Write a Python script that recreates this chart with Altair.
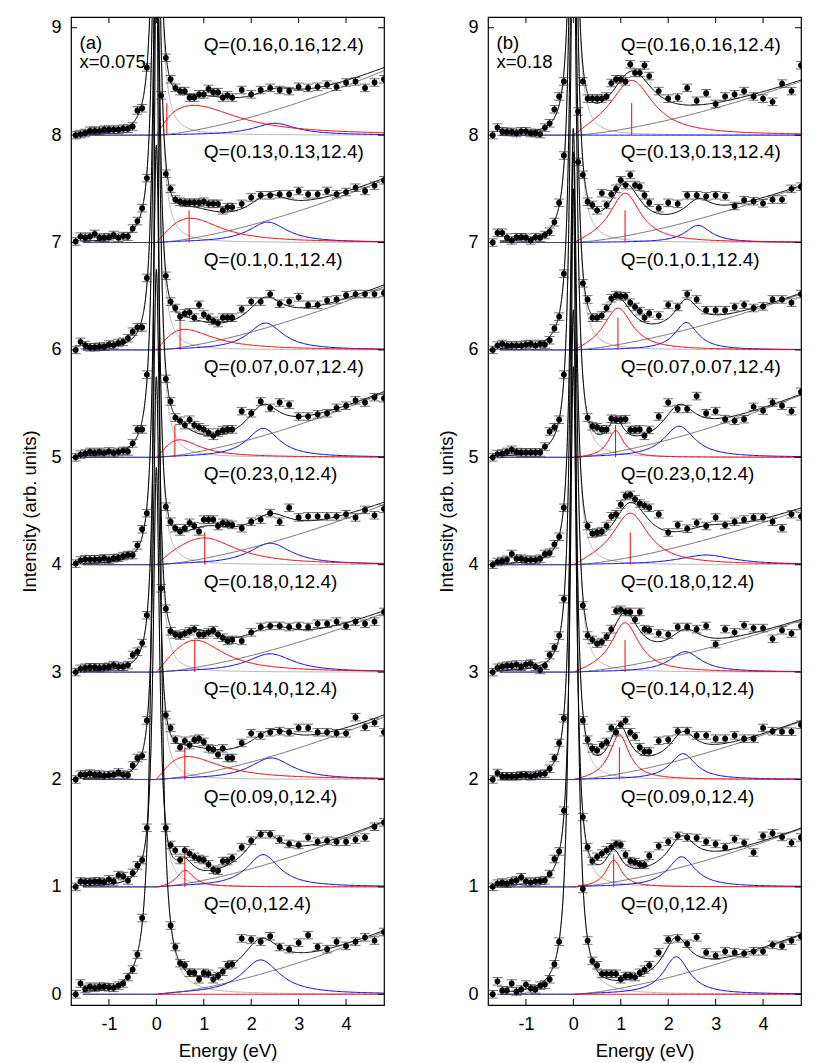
import numpy as np
import pandas as pd
import altair as alt

N = None
# Energy grid of the measured points (eV)
ENERGY = [-1.7, -1.6, -1.5, -1.4, -1.3, -1.2, -1.1, -1.0, -0.9, -0.8, -0.7,
          -0.6, -0.5, -0.4, -0.3, -0.2, -0.1, 0.0, 0.1, 0.2,
          0.3, 0.4, 0.5, 0.6, 0.7, 0.8, 0.9, 1.0, 1.1, 1.2, 1.3, 1.4, 1.5, 1.6,
          1.8, 2.0, 2.2, 2.4, 2.6, 2.8, 3.0, 3.2, 3.4, 3.6, 3.8, 4.0, 4.2, 4.4, 4.6, 4.8]

Q_LABELS = ["Q=(0,0,12.4)", "Q=(0.09,0,12.4)", "Q=(0.14,0,12.4)", "Q=(0.18,0,12.4)",
            "Q=(0.23,0,12.4)", "Q=(0.07,0.07,12.4)", "Q=(0.1,0.1,12.4)",
            "Q=(0.13,0.13,12.4)", "Q=(0.16,0.16,12.4)"]
X_TICKS = [-1, 0, 1, 2, 3, 4]
Y_TICKS = [0, 1, 2, 3, 4, 5, 6, 7, 8, 9]

# ---------------- panel (a) x=0.075 : intensities above each offset ----------------
A0 = [0.00, 0.10, 0.05, 0.07, 0.06, 0.07, 0.07, 0.065, 0.06, 0.08, 0.10,
      0.16, 0.23, 0.37, 0.71, N, N, N, N, N,
      0.64, 0.44, 0.29, 0.27, 0.20, 0.20, 0.14, 0.20, 0.19, 0.14, 0.17, 0.21, 0.27, 0.28,
      0.52, 0.51, 0.49, 0.54, 0.44, 0.42, 0.48, 0.55, 0.44, 0.42, 0.49, 0.45, 0.49, 0.53, 0.50, 0.58]
A1 = [0.00, 0.05, 0.045, 0.045, 0.05, 0.05, 0.045, 0.07, 0.05, 0.11, 0.10,
      0.06, 0.13, 0.20, 0.25, 0.55, N, N, N, 0.55,
      0.39, 0.34, 0.25, 0.34, 0.31, 0.28, 0.26, 0.25, 0.21, 0.16, 0.15, 0.24, 0.24, 0.27,
      0.37, 0.43, 0.49, 0.49, 0.44, 0.40, 0.39, 0.46, 0.42, 0.43, 0.42, 0.42, 0.44, 0.46, 0.56, 0.60]
A2 = [0.00, 0.045, 0.045, 0.055, 0.045, 0.045, 0.035, 0.04, 0.045, 0.065, 0.045,
      0.04, 0.13, 0.20, 0.22, 0.55, N, N, N, 0.60,
      0.48, 0.37, 0.30, 0.36, 0.32, 0.37, 0.38, 0.35, 0.29, 0.28, 0.23, 0.29, 0.20, 0.20,
      0.34, 0.43, 0.41, 0.44, 0.45, 0.44, 0.48, 0.48, 0.44, 0.44, 0.43, 0.43, 0.58, 0.49, 0.53, 0.44]
A3 = [0.00, 0.03, 0.04, 0.045, 0.045, 0.04, 0.045, 0.05, 0.065, 0.05, 0.05,
      0.065, 0.16, 0.19, 0.27, 0.53, N, N, 0.78, 0.59,
      0.38, 0.35, 0.34, 0.36, 0.38, 0.40, 0.35, 0.35, 0.37, 0.39, 0.35, 0.32, 0.29, 0.30,
      0.29, 0.37, 0.42, 0.43, 0.43, 0.42, 0.43, 0.42, 0.45, 0.45, 0.47, 0.43, 0.47, 0.45, 0.47, 0.56]
A4 = [0.01, 0.04, 0.05, 0.05, 0.05, 0.05, 0.06, 0.045, 0.06, 0.065, 0.08,
      0.09, 0.09, 0.18, 0.33, 0.48, N, N, N, 0.54,
      0.40, 0.34, 0.31, 0.34, 0.39, 0.36, 0.31, 0.42, 0.42, 0.42, 0.36, 0.39, 0.38, 0.37,
      0.34, 0.40, 0.42, 0.48, 0.40, 0.53, 0.44, 0.45, 0.45, 0.45, 0.45, 0.47, 0.44, 0.51, 0.46, 0.52]
A5 = [0.00, 0.025, 0.035, 0.05, 0.04, 0.05, 0.04, 0.055, 0.04, 0.05, 0.06,
      0.055, 0.13, 0.26, 0.26, 0.77, N, N, N, 0.73,
      0.52, 0.37, 0.34, 0.30, 0.35, 0.30, 0.28, 0.26, 0.23, 0.20, 0.23, 0.25, 0.26, 0.26,
      0.43, 0.41, 0.52, 0.46, 0.51, 0.49, 0.38, 0.38, 0.40, 0.41, 0.46, 0.48, 0.53, 0.51, 0.56, 0.55]
A6 = [0.00, 0.075, 0.045, 0.025, 0.025, 0.03, 0.03, 0.05, 0.045, 0.065, 0.075,
      0.11, 0.17, 0.21, 0.21, 0.67, N, N, N, 0.69,
      0.45, 0.39, 0.31, 0.34, 0.35, 0.30, 0.42, 0.33, 0.30, 0.27, 0.25, 0.30, 0.30, 0.30,
      0.38, 0.45, 0.45, 0.52, 0.43, 0.45, 0.49, 0.42, 0.42, 0.46, 0.47, 0.51, 0.52, 0.52, 0.52, 0.53]
A7 = [0.01, 0.055, 0.045, 0.055, 0.08, 0.045, 0.045, 0.05, 0.07, 0.045, 0.06,
      0.055, 0.13, 0.20, 0.32, 0.60, N, N, 1.37, 0.64,
      0.50, 0.40, 0.38, 0.37, 0.37, 0.37, 0.37, 0.38, 0.36, 0.36, 0.36, 0.30, 0.33, 0.33,
      0.36, 0.42, 0.44, 0.44, 0.45, 0.45, 0.48, 0.45, 0.45, 0.48, 0.45, 0.47, 0.51, 0.48, 0.53, 0.58]
A8 = [0.00, 0.01, 0.02, 0.04, 0.04, 0.04, 0.05, 0.05, 0.05, 0.05, 0.06,
      0.06, 0.08, 0.23, 0.25, 0.63, N, N, N, 0.72,
      0.52, 0.44, 0.41, 0.41, 0.35, 0.35, 0.38, 0.38, 0.43, 0.40, 0.40, 0.35, 0.37, 0.35,
      0.42, 0.38, 0.42, 0.44, 0.42, 0.41, 0.45, 0.44, 0.45, 0.47, 0.45, 0.49, 0.50, 0.44, 0.49, 0.52]

# ---------------- panel (b) x=0.18 ----------------
B0 = [0.00, 0.12, 0.035, 0.035, 0.10, 0.025, 0.045, 0.09, 0.055, 0.045, 0.08,
      0.09, 0.14, 0.28, 0.49, N, N, N, N, 0.98,
      0.50, 0.31, 0.27, 0.19, 0.19, 0.19, 0.19, 0.14, 0.17, 0.17, 0.16, 0.20, 0.23, 0.27,
      0.39, 0.51, 0.52, 0.47, 0.53, 0.39, 0.36, 0.40, 0.39, 0.38, 0.40, 0.40, 0.46, 0.45, 0.50, 0.54]
B1 = [0.00, 0.03, 0.04, 0.03, 0.05, 0.06, 0.09, 0.05, 0.04, 0.05, 0.055,
      0.06, 0.12, 0.26, 0.33, 0.71, N, N, N, 0.65,
      0.37, 0.24, 0.28, 0.31, 0.34, 0.37, 0.40, 0.39, 0.30, 0.24, 0.23, 0.21, 0.205, 0.29,
      0.38, 0.42, 0.475, 0.46, 0.455, 0.42, 0.40, 0.37, 0.445, 0.41, 0.32, 0.475, 0.50, 0.465, 0.41, 0.46]
B2 = [0.00, 0.06, 0.03, 0.03, 0.03, 0.03, 0.04, 0.04, 0.03, 0.04, 0.05,
      0.055, 0.10, 0.20, 0.34, 0.57, N, N, N, 0.55,
      0.37, 0.29, 0.27, 0.32, 0.35, 0.48, 0.44, 0.51, 0.55, 0.44, 0.40, 0.30, 0.26, 0.26,
      0.36, 0.37, 0.45, 0.45, 0.41, 0.41, 0.38, 0.38, 0.41, 0.38, 0.38, 0.48, 0.45, 0.445, 0.445, 0.51]
B3 = [0.00, 0.04, 0.05, 0.06, 0.06, 0.07, 0.05, 0.07, 0.08, 0.05, 0.02,
      0.06, 0.16, 0.23, 0.34, 0.68, N, N, N, 0.62,
      0.34, 0.30, 0.265, 0.28, 0.33, 0.40, 0.57, 0.58, 0.56, 0.56, 0.49, 0.56, 0.40, 0.39,
      0.36, 0.35, 0.42, 0.42, 0.40, 0.43, 0.26, 0.40, 0.37, 0.435, 0.41, 0.41, 0.31, 0.39, 0.36, 0.43]
B4 = [0.00, 0.025, 0.035, 0.045, 0.10, 0.055, 0.055, 0.045, 0.045, 0.045, 0.055,
      0.10, 0.11, 0.19, 0.26, 0.53, N, N, N, N,
      0.36, 0.29, 0.30, 0.31, 0.36, 0.45, 0.47, 0.56, 0.64, 0.65, 0.61, 0.57, 0.55, 0.53,
      0.47, 0.30, 0.37, 0.335, 0.39, 0.36, 0.44, 0.37, 0.40, 0.42, 0.44, 0.44, 0.40, 0.34, 0.47, 0.45]
B5 = [0.00, 0.03, 0.035, 0.05, 0.07, 0.05, 0.045, 0.045, 0.045, 0.045, 0.045,
      0.10, 0.24, 0.28, 0.35, 0.77, N, N, N, N,
      0.37, 0.29, 0.28, 0.26, 0.26, 0.36, 0.35, 0.35, 0.355, 0.255, 0.255, 0.26, 0.20, 0.255,
      0.38, 0.51, 0.45, 0.45, 0.57, 0.41, 0.43, 0.355, 0.34, 0.355, 0.47, 0.435, 0.51, 0.48, 0.43, 0.61]
B6 = [0.00, 0.04, 0.055, 0.04, 0.04, 0.04, 0.04, 0.05, 0.055, 0.04, 0.055,
      0.05, 0.09, 0.20, 0.31, 0.71, N, N, 1.75, 0.62,
      0.47, 0.30, 0.30, 0.32, 0.39, 0.48, 0.51, 0.50, 0.50, 0.44, 0.40, 0.36, 0.30, 0.34,
      0.32, 0.42, 0.40, 0.52, 0.47, 0.37, 0.37, 0.37, 0.40, 0.42, 0.39, 0.405, 0.47, 0.47, 0.44, 0.52]
B7 = [0.00, 0.09, 0.09, 0.045, 0.02, 0.05, 0.05, 0.045, 0.02, 0.05, 0.045,
      0.07, 0.10, 0.19, 0.37, 0.81, N, N, 1.22, 0.63,
      0.38, 0.35, 0.30, 0.46, 0.35, 0.45, 0.50, 0.58, 0.535, 0.63, 0.535, 0.52, 0.44, 0.37,
      0.32, 0.37, 0.36, 0.44, 0.44, 0.43, 0.44, 0.43, 0.34, 0.395, 0.385, 0.365, 0.40, 0.40, 0.50, 0.52]
B8 = [0.00, 0.07, 0.035, 0.03, 0.03, 0.02, 0.035, 0.035, 0.02, 0.02, 0.01,
      0.07, 0.11, 0.24, 0.36, 0.50, N, N, N, 0.50,
      0.34, 0.34, 0.34, 0.34, 0.36, 0.485, 0.52, 0.52, 0.50, 0.66, 0.58, 0.58, 0.65, 0.55,
      0.41, 0.34, 0.35, 0.44, 0.32, 0.39, 0.29, 0.36, 0.38, 0.41, 0.36, 0.34, 0.31, 0.48, 0.41, 0.65]

# ---------------- fit parameters read from the components ----------------
A_ELASTIC = [0.063, 0.025, 0.024, 0.024, 0.025, 0.033, 0.028, 0.030, 0.029]
A_RED_POS = [0.5, 0.6, 0.6, 0.81, 1.0, 0.4, 0.53, 0.69, 0.74]
A_RED_WID = [0.3, 0.22, 0.9, 0.74, 0.84, 0.58, 0.79, 0.81, 1.2]
A_RED_AMP = [0.0, 0.16, 0.22, 0.30, 0.25, 0.18, 0.20, 0.23, 0.28]
A_RED_MARK = [N, 0.6, 0.6, 0.81, 1.02, 0.39, 0.5, 0.69, 0.22]
A_BLUE_POS = [2.2, 2.25, 2.42, 2.4, 2.4, 2.25, 2.3, 2.35, 2.5]
A_BLUE_WID = [0.49, 0.42, 0.55, 0.6, 0.55, 0.42, 0.45, 0.5, 0.55]
A_BLUE_AMP = [0.32, 0.30, 0.20, 0.17, 0.20, 0.27, 0.25, 0.19, 0.11]
A_BG = [0.58, 0.60, 0.58, 0.55, 0.56, 0.60, 0.59, 0.58, 0.60]

B_ELASTIC = [0.048, 0.031, 0.028, 0.031, 0.026, 0.034, 0.032, 0.033, 0.027]
B_RED_POS = [1.0, 0.85, 0.97, 1.09, 1.2, 0.89, 0.94, 1.09, 1.23]
B_RED_WID = [0.3, 0.2, 0.25, 0.36, 0.47, 0.2, 0.37, 0.4, 0.55]
B_RED_AMP = [0.0, 0.25, 0.42, 0.46, 0.48, 0.25, 0.39, 0.46, 0.51]
B_RED_MARK = [N, 0.85, 0.97, 1.09, 1.2, 0.89, 0.94, 1.09, 1.23]
B_BLUE_POS = [2.17, 2.28, 2.31, 2.36, 2.8, 2.23, 2.38, 2.63, 2.5]
B_BLUE_WID = [0.33, 0.35, 0.33, 0.4, 0.7, 0.4, 0.3, 0.33, 0.5]
B_BLUE_AMP = [0.35, 0.28, 0.24, 0.19, 0.09, 0.29, 0.255, 0.16, 0.0]
B_BG = [0.55, 0.54, 0.54, 0.48, 0.51, 0.58, 0.52, 0.52, 0.50]

ERR = 0.035
GAMMA_EL = 0.08
RAMP = 0.3
BG_POWER = 1.45
MARK_LEN = 0.3

PANELS = {
    "a": dict(data=[A0, A1, A2, A3, A4, A5, A6, A7, A8], el=A_ELASTIC,
              rc=A_RED_POS, rw=A_RED_WID, ra=A_RED_AMP, rm=A_RED_MARK,
              bc=A_BLUE_POS, bw=A_BLUE_WID, ba=A_BLUE_AMP, bg=A_BG,
              tag=["(a)", "x=0.075"]),
    "b": dict(data=[B0, B1, B2, B3, B4, B5, B6, B7, B8], el=B_ELASTIC,
              rc=B_RED_POS, rw=B_RED_WID, ra=B_RED_AMP, rm=B_RED_MARK,
              bc=B_BLUE_POS, bw=B_BLUE_WID, ba=B_BLUE_AMP, bg=B_BG,
              tag=["(b)", "x=0.18"]),
}

E_FINE = np.round(np.concatenate([np.arange(-1.55, -0.5, 0.025),
                                  np.arange(-0.5, 0.5, 0.004),
                                  np.arange(0.5, 4.8001, 0.025)]), 4)
E_COARSE = np.round(np.arange(-1.55, 4.8001, 0.025), 4)
E_POS = np.round(np.arange(0.0, 4.8001, 0.025), 4)


def peak(E, c, w, a):
    return np.where(E > 0, a * w ** 2 / ((E - c) ** 2 + w ** 2) * np.tanh(np.clip(E, 0, None) / RAMP), 0.0)


def backg(E, b):
    return np.where(E > 0, b * (np.clip(E, 0, None) / 4.8) ** BG_POWER, 0.0)


def elastic(E, s):
    return s / (E ** 2 + GAMMA_EL ** 2)


curve_rows, point_rows, mark_rows, label_rows = [], [], [], []
for key, P in PANELS.items():
    for k in range(9):
        off = float(k)
        ef = E_FINE
        fit = (elastic(ef, P["el"][k]) + peak(ef, P["rc"][k], P["rw"][k], P["ra"][k])
               + peak(ef, P["bc"][k], P["bw"][k], P["ba"][k]) + backg(ef, P["bg"][k]))
        el = elastic(ef, P["el"][k])
        for comp, vals, grid in [("fit", fit, ef), ("elastic", el, ef),
                                 ("red", peak(E_POS, P["rc"][k], P["rw"][k], P["ra"][k]), E_POS),
                                 ("blue", peak(E_COARSE, P["bc"][k], P["bw"][k], P["ba"][k]), E_COARSE),
                                 ("bg", backg(E_COARSE, P["bg"][k]), E_COARSE)]:
            yy = np.minimum(vals, 12.0) + off
            curve_rows.append(pd.DataFrame({"panel": key, "spec": k, "comp": comp,
                                            "E": grid, "y": np.round(yy, 4)}))
        for e, v in zip(ENERGY, P["data"][k]):
            if v is None:
                continue
            point_rows.append({"panel": key, "spec": k, "E": e, "y": off + v,
                               "lo": off + v - ERR, "hi": off + v + ERR})
        if P["rm"][k] is not None:
            mark_rows.append({"panel": key, "spec": k, "E": P["rm"][k],
                              "y": off, "y2": off + MARK_LEN})
        label_rows.append({"panel": key, "E": 1.0, "y": off + 0.84, "text": Q_LABELS[k]})

curves = pd.concat(curve_rows, ignore_index=True)
points = pd.DataFrame(point_rows)
marks = pd.DataFrame(mark_rows)
labels = pd.DataFrame(label_rows)

FONT = "Liberation Sans"
W, H = 313, 988
XS = alt.Scale(domain=[-1.8, 4.8], nice=False, zero=False)
YS = alt.Scale(domain=[-0.1, 9.1], nice=False, zero=False)
XA = alt.Axis(values=X_TICKS, title="Energy (eV)", tickSize=0, labelPadding=10,
              titlePadding=8, grid=False, domain=False,
              labelExpr="replace(datum.label, '\u2212', '-')")
YA = alt.Axis(values=Y_TICKS, title="Intensity (arb. units)", tickSize=0, labelPadding=10,
              titlePadding=12, grid=False, domain=False, minExtent=20, maxExtent=20)


def X(field="E"):
    return alt.X(f"{field}:Q", scale=XS, axis=XA)


def Y(field="y"):
    return alt.Y(f"{field}:Q", scale=YS, axis=YA)


def make_panel(key):
    cur = curves[curves.panel == key]
    pts = points[points.panel == key]
    mk = marks[marks.panel == key]
    lab = labels[labels.panel == key]
    tag = PANELS[key]["tag"]

    def line(comp, color, opacity=1.0):
        return alt.Chart(cur[cur.comp == comp].drop(columns=["panel", "comp"])).mark_line(
            color=color, strokeWidth=1, opacity=opacity, clip=True).encode(
            x=X(), y=Y(), detail="spec:N")

    layers = [
        line("elastic", "#b4b4b4"),
        line("blue", "#0000ff"),
        line("bg", "#505050", 0.8),
        line("red", "#ff0000"),
        line("fit", "#000000"),
        alt.Chart(mk).mark_rule(color="#ff0000", strokeWidth=1, clip=True).encode(
            x=X(), y=Y(), y2="y2:Q"),
        alt.Chart(pts).mark_rule(color="#000000", strokeWidth=1, clip=True).encode(
            x=X(), y=Y("lo"), y2="hi:Q"),
        alt.Chart(pts).mark_tick(color="#333333", orient="horizontal", size=10,
                                 thickness=1, clip=True).encode(x=X(), y=Y("lo")),
        alt.Chart(pts).mark_tick(color="#333333", orient="horizontal", size=10,
                                 thickness=1, clip=True).encode(x=X(), y=Y("hi")),
        alt.Chart(pts).mark_circle(color="#000000", size=34, opacity=1, clip=True).encode(
            x=X(), y=Y()),
        alt.Chart(lab).mark_text(align="left", baseline="middle", font=FONT, fontSize=19,
                                 color="#000000").encode(x=X(), y=Y(), text="text:N"),
        alt.Chart(pd.DataFrame({"E": [-1.62, -1.62], "y": [8.86, 8.68], "text": tag})).mark_text(
            align="left", baseline="middle", font=FONT, fontSize=18.5, color="#000000").encode(
            x=X(), y=Y(), text="text:N"),
        alt.Chart(pd.DataFrame({"E": X_TICKS})).mark_rule(color="#000000").encode(
            x=X(), y=alt.value(H), y2=alt.value(H - 6)),
        alt.Chart(pd.DataFrame({"E": X_TICKS})).mark_rule(color="#000000").encode(
            x=X(), y=alt.value(0), y2=alt.value(6)),
        alt.Chart(pd.DataFrame({"y": Y_TICKS})).mark_rule(color="#000000").encode(
            y=Y(), x=alt.value(0), x2=alt.value(6)),
        alt.Chart(pd.DataFrame({"y": Y_TICKS})).mark_rule(color="#000000").encode(
            y=Y(), x=alt.value(W), x2=alt.value(W - 6)),
    ]
    return alt.layer(*layers).properties(width=W, height=H)


chart = alt.hconcat(make_panel("a"), make_panel("b"), spacing=50).properties(
    padding={"left": 11, "top": 7, "right": 5, "bottom": 0}
).configure_view(stroke="#000000", strokeWidth=1.2).configure_axis(
    labelFont=FONT, titleFont=FONT, labelFontSize=18, titleFontSize=18.5,
    labelColor="#000000", titleColor="#000000", titleFontWeight="normal"
)

chart.save("out.html", embed_options={"renderer": "svg", "actions": False})
